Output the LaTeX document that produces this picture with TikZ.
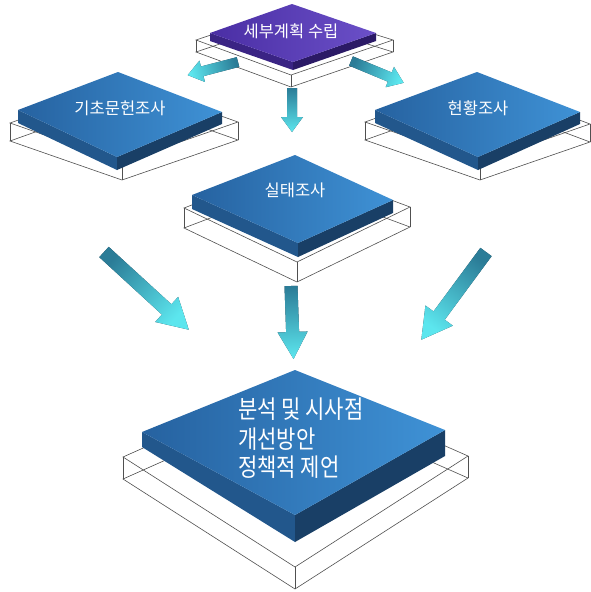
\documentclass[tikz,border=0pt]{standalone}
\usepackage{fontspec}
\newfontfamily\kr{Noto Sans CJK KR}
\newfontfamily\krn[FakeStretch=0.84]{Noto Sans CJK KR}
\usetikzlibrary{calc}
\definecolor{bluetopA}{HTML}{2662A0}
\definecolor{bluetopB}{HTML}{3F92D6}
\definecolor{bluesideL}{HTML}{22578C}
\definecolor{bluesideR}{HTML}{193F66}
\definecolor{purptopA}{HTML}{4A2EA4}
\definecolor{purptopB}{HTML}{6B50C8}
\definecolor{purpsideL}{HTML}{3A2484}
\definecolor{purpsideR}{HTML}{2B1A66}
\definecolor{arrowA}{HTML}{2B7C97}
\definecolor{arrowB}{HTML}{5CE6EE}
\definecolor{arrowshadow}{HTML}{1C3A48}
\definecolor{wirec}{HTML}{505050}
\tikzset{
  wire/.style={draw=wirec, line width=0.6pt, line join=miter},
  label/.style={text=white, font=\kr\fontsize{16.5}{19}\selectfont, inner sep=0pt},
  biglabel/.style={text=white, font=\krn\fontsize{25}{29}\selectfont, inner sep=0pt, anchor=west},
}
% wire box: L B R F thickness
\newcommand{\wirebox}[5]{%
  \draw[wire] (#1) -- (#2) -- (#3) -- (#4) -- cycle;
  \draw[wire] ($(#1)+(0,#5)$) -- ($(#2)+(0,#5)$) -- ($(#3)+(0,#5)$) -- ($(#4)+(0,#5)$) -- cycle;
  \draw[wire] (#1) -- ($(#1)+(0,#5)$);
  \draw[wire] (#2) -- ($(#2)+(0,#5)$);
  \draw[wire] (#3) -- ($(#3)+(0,#5)$);
  \draw[wire] (#4) -- ($(#4)+(0,#5)$);
}
% slab: L B R F tL tF tR colorprefix
\newcommand{\slab}[8]{%
  \fill[#8sideL] (#1) -- (#4) -- ($(#4)+(0,#6)$) -- ($(#1)+(0,#5)$) -- cycle;
  \fill[#8sideR] (#4) -- (#3) -- ($(#3)+(0,#7)$) -- ($(#4)+(0,#6)$) -- cycle;
  \shade[left color=#8topA, right color=#8topB] (#1) -- (#2) -- (#3) -- (#4) -- cycle;
}
% fat arrow: tail coordinate, angle, length, shaft half width, head half width, head length
\newcommand{\fatarrow}[6]{%
  \path[shift={(#1)}, rotate=#2]
    (0,-#4) coordinate (p1) ({#3-#6},-#4) coordinate (p2) ({#3-#6},-#5) coordinate (p3)
    (#3,0) coordinate (p4) ({#3-#6},#5) coordinate (p5) ({#3-#6},#4) coordinate (p6)
    (0,#4) coordinate (p7);
  \fill[arrowshadow, shift={(1.6,1.6)}] (p1) -- (p2) -- (p3) -- (p4) -- (p5) -- (p6) -- (p7) -- cycle;
  \pgfmathsetmacro{\shang}{#2-90}%
  \shade[top color=arrowB, bottom color=arrowA, shading angle=\shang]
    (p1) -- (p2) -- (p3) -- (p4) -- (p5) -- (p6) -- (p7) -- cycle;
}
\begin{document}
\begin{tikzpicture}[x=1pt,y=-1pt]
\useasboundingbox[fill=white] (0,0) rectangle (591,592);
% wire frames
\wirebox{196,40}{291,8}{393,40}{291,75}{12}
\wirebox{10,123}{125,82}{238,122}{122,162}{18}
\wirebox{365,122}{478,82}{590,124}{480,162}{18}
\wirebox{184,208}{297,165}{410,207}{297,262}{20}
\wirebox{123,457}{296,380}{468,456}{295,567}{22}
% slabs
\slab{210,33}{292,4}{376,33}{293,62}{8}{8}{8}{purp}
\slab{18,110}{118,72}{222,112}{117,157}{13}{13}{12}{blue}
\slab{375,110}{477,72}{580,112}{478,157}{13}{13}{12}{blue}
\slab{192,195}{295,155}{393,200}{298,243}{14}{14}{13}{blue}
\slab{142,432}{295,370}{445,430}{295,515}{15}{27}{26}{blue}
% arrow tails
\coordinate (a1) at (238,62);
\coordinate (a2) at (351,61);
\coordinate (a3) at (292,88);
\coordinate (a4) at (104,252);
\coordinate (a5) at (291,286);
\coordinate (a6) at (486,252);
\fatarrow{a1}{194.6}{52}{5}{11}{15}
\fatarrow{a2}{-22.5}{57}{5}{11}{15}
\fatarrow{a3}{-90}{44}{5}{11}{15}
\fatarrow{a4}{-42.5}{115}{7}{17}{30}
\fatarrow{a5}{-88}{73}{6.5}{15}{27}
\fatarrow{a6}{-126.4}{109}{7}{17}{30}
% labels
\node[label] (n0) at (291,31) {세부계획 수립};
\node[label] (n1) at (120,108) {기초문헌조사};
\node[label] (n2) at (478,108) {현황조사};
\node[label] (n3) at (295,190) {실태조사};
\node[biglabel] (n4a) at (238,409) {분석 및 시사점};
\node[biglabel] (n4b) at (238,439) {개선방안};
\node[biglabel] (n4c) at (238,467) {정책적 제언};
\end{tikzpicture}
\end{document}
